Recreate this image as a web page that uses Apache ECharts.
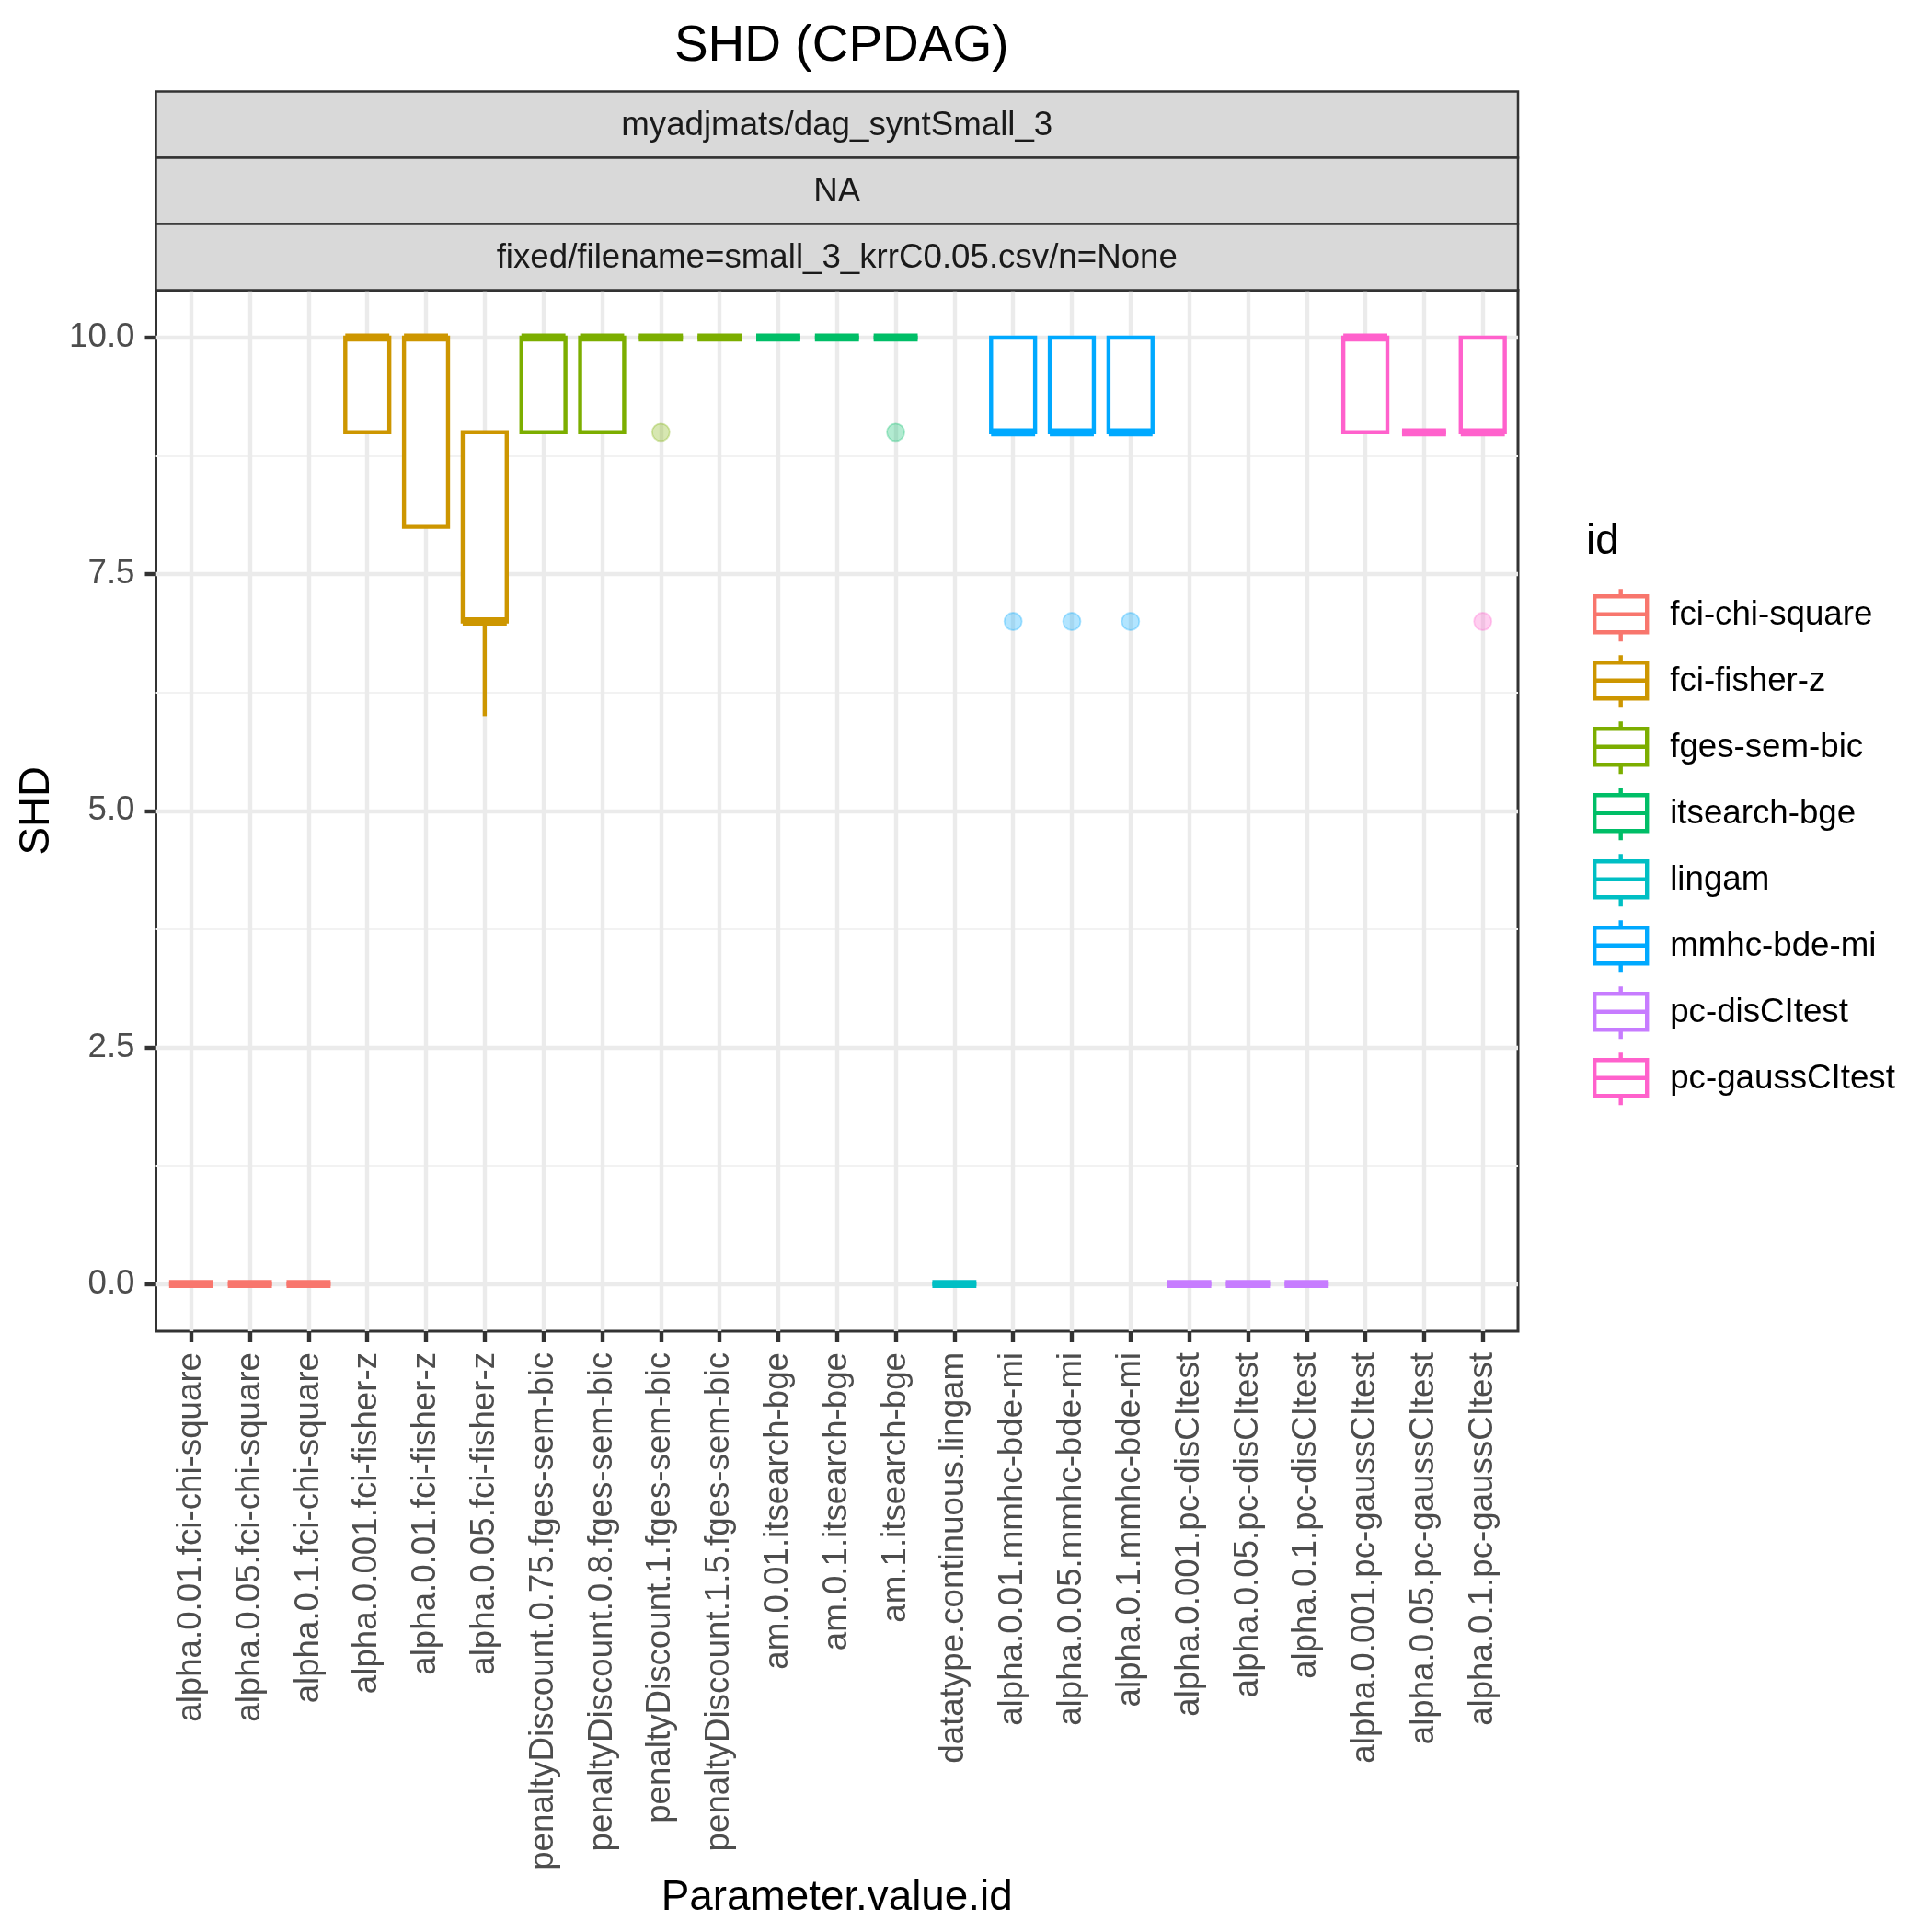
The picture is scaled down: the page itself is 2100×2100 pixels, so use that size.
<!DOCTYPE html>
<html>
<head>
<meta charset="utf-8">
<script src="https://cdn.jsdelivr.net/npm/echarts@6/dist/echarts.min.js"></script>
<style>html,body{margin:0;padding:0;background:#fff}#chart{width:2100px;height:2100px}</style>
</head>
<body>
<div id="chart"></div>
<script>
// ---- data ----
const categories = [
  'alpha.0.01.fci-chi-square','alpha.0.05.fci-chi-square','alpha.0.1.fci-chi-square',
  'alpha.0.001.fci-fisher-z','alpha.0.01.fci-fisher-z','alpha.0.05.fci-fisher-z',
  'penaltyDiscount.0.75.fges-sem-bic','penaltyDiscount.0.8.fges-sem-bic','penaltyDiscount.1.fges-sem-bic','penaltyDiscount.1.5.fges-sem-bic',
  'am.0.01.itsearch-bge','am.0.1.itsearch-bge','am.1.itsearch-bge',
  'datatype.continuous.lingam',
  'alpha.0.01.mmhc-bde-mi','alpha.0.05.mmhc-bde-mi','alpha.0.1.mmhc-bde-mi',
  'alpha.0.001.pc-disCItest','alpha.0.05.pc-disCItest','alpha.0.1.pc-disCItest',
  'alpha.0.001.pc-gaussCItest','alpha.0.05.pc-gaussCItest','alpha.0.1.pc-gaussCItest'
];
const categoryGroup = [
  'fci-chi-square','fci-chi-square','fci-chi-square',
  'fci-fisher-z','fci-fisher-z','fci-fisher-z',
  'fges-sem-bic','fges-sem-bic','fges-sem-bic','fges-sem-bic',
  'itsearch-bge','itsearch-bge','itsearch-bge',
  'lingam',
  'mmhc-bde-mi','mmhc-bde-mi','mmhc-bde-mi',
  'pc-disCItest','pc-disCItest','pc-disCItest',
  'pc-gaussCItest','pc-gaussCItest','pc-gaussCItest'
];
const groups = ['fci-chi-square','fci-fisher-z','fges-sem-bic','itsearch-bge','lingam','mmhc-bde-mi','pc-disCItest','pc-gaussCItest'];
const groupColors = ['#F8766D','#CD9600','#7CAE00','#00BE67','#00BFC4','#00A9FF','#C77CFF','#FF61CC'];
const whiskerLow  = [0,0,0, 9,8,6, 9,9,10,10, 10,10,10, 0, 9,9,9, 0,0,0, 9,9,9];
const q1          = [0,0,0, 9,8,7, 9,9,10,10, 10,10,10, 0, 9,9,9, 0,0,0, 9,9,9];
const median      = [0,0,0, 10,10,7, 10,10,10,10, 10,10,10, 0, 9,9,9, 0,0,0, 10,9,9];
const q3          = [0,0,0, 10,10,9, 10,10,10,10, 10,10,10, 0, 10,10,10, 0,0,0, 10,9,10];
const whiskerHigh = [0,0,0, 10,10,9, 10,10,10,10, 10,10,10, 0, 10,10,10, 0,0,0, 10,9,10];
const outlierCat  = [8, 12, 14, 15, 16, 22];
const outlierVal  = [9, 9, 7, 7, 7, 7];
const yTicks = [0, 2.5, 5, 7.5, 10];
const yMinor = [1.25, 3.75, 6.25, 8.75];
const stripLabels = ['myadjmats/dag_syntSmall_3', 'NA', 'fixed/filename=small_3_krrC0.05.csv/n=None'];

// ---- layout / style ----
const FONT = 'Liberation Sans';
const G = {left: 169.5, top: 315.5, right: 1650, bottom: 1447};
const LW = 4.4;
const BOX_W = 0.75;
const STRIP_H = 72;

const chart = echarts.init(document.getElementById('chart'), null, {renderer: 'canvas'});

function makeRender(color) {
  return function (params, api) {
    const x = api.value(0);
    const pLo = api.coord([x, api.value(1)]);
    const pQ1 = api.coord([x, api.value(2)]);
    const pMed = api.coord([x, api.value(3)]);
    const pQ3 = api.coord([x, api.value(4)]);
    const pHi = api.coord([x, api.value(5)]);
    const half = api.size([BOX_W, 0])[0] / 2;
    const cx = pMed[0];
    const ch = [];
    if (pQ3[1] - pHi[1] > 0.5) ch.push({type: 'line', shape: {x1: cx, y1: pQ3[1], x2: cx, y2: pHi[1]}, style: {stroke: color, lineWidth: LW}});
    if (pLo[1] - pQ1[1] > 0.5) ch.push({type: 'line', shape: {x1: cx, y1: pQ1[1], x2: cx, y2: pLo[1]}, style: {stroke: color, lineWidth: LW}});
    ch.push({type: 'rect', shape: {x: cx - half, y: pQ3[1], width: 2 * half, height: pQ1[1] - pQ3[1]}, style: {fill: '#fff', stroke: color, lineWidth: LW}});
    ch.push({type: 'line', shape: {x1: cx - half, y1: pMed[1], x2: cx + half, y2: pMed[1]}, style: {stroke: color, lineWidth: LW * 2}});
    return {type: 'group', children: ch};
  };
}

const series = [];
groups.forEach((g, gi) => {
  const color = groupColors[gi];
  const data = [];
  categories.forEach((c, i) => {
    if (categoryGroup[i] === g) data.push([i, whiskerLow[i], q1[i], median[i], q3[i], whiskerHigh[i]]);
  });
  series.push({
    type: 'custom', name: g, data: data,
    encode: {x: 0, y: [1, 2, 3, 4, 5]},
    itemStyle: {color: '#fff', borderColor: color, borderWidth: LW},
    renderItem: makeRender(color), z: 3
  });
  const od = [];
  outlierCat.forEach((ci, k) => { if (categoryGroup[ci] === g) od.push([ci, outlierVal[k]]); });
  if (od.length) {
    series.push({
      type: 'scatter', name: g + ' outliers', data: od, symbol: 'circle', symbolSize: 19,
      itemStyle: {color: color, opacity: 0.3, borderColor: color, borderWidth: 1.8}, z: 4, silent: true
    });
  }
});

const iconPath = 'path://M28.5 0 L28.5 8 M0 8 L57 8 L57 47 L0 47 Z M0 27.5 L57 27.5 M28.5 47 L28.5 57';

const graphics = [];
stripLabels.forEach((t, i) => {
  const y = 99.5 + i * STRIP_H;
  graphics.push({type: 'rect', shape: {x: G.left, y: y, width: G.right - G.left, height: STRIP_H},
    style: {fill: '#D9D9D9', stroke: '#333333', lineWidth: 2.5}, z: 1});
  graphics.push({type: 'text', x: (G.left + G.right) / 2, y: y + STRIP_H / 2 + 1,
    style: {text: t, fill: '#1A1A1A', font: '36.7px "' + FONT + '"', textAlign: 'center', textVerticalAlign: 'middle'}, z: 2});
});

const option = {
  animation: false,
  backgroundColor: '#ffffff',
  textStyle: {fontFamily: FONT},
  title: [
    {text: 'SHD (CPDAG)', left: (G.left + G.right) / 2, top: 18, textAlign: 'center',
     textStyle: {fontSize: 55, fontWeight: 'normal', color: '#000', fontFamily: FONT}},
    {text: 'id', left: 1719, top: 561, textStyle: {fontSize: 45.8, fontWeight: 'normal', color: '#000', fontFamily: FONT}}
  ],
  grid: {left: G.left, top: G.top, width: G.right - G.left, height: G.bottom - G.top,
    show: true, borderColor: '#333333', borderWidth: 3, backgroundColor: '#fff', containLabel: false},
  legend: {
    orient: 'vertical', left: 1726, top: 633, itemWidth: 57, itemHeight: 57, itemGap: 10.6,
    icon: iconPath, selectedMode: false,
    textStyle: {fontSize: 36.7, color: '#000', fontFamily: FONT, padding: [0, 0, 0, 20]},
    data: groups.map((g, i) => ({name: g, itemStyle: {color: '#fff', borderColor: groupColors[i], borderWidth: LW}}))
  },
  xAxis: {
    type: 'value', min: -0.6, max: 22.6, position: 'bottom',
    name: 'Parameter.value.id', nameLocation: 'middle', nameGap: 564,
    nameTextStyle: {fontSize: 45.8, color: '#000', fontFamily: FONT},
    axisLine: {show: false, onZero: false},
    axisTick: {show: true, length: 12, lineStyle: {color: '#333333', width: LW}, customValues: categories.map((c, i) => i)},
    axisLabel: {show: true, rotate: 90, margin: 23, fontSize: 36.7, color: '#4D4D4D', fontFamily: FONT,
      customValues: categories.map((c, i) => i), formatter: v => categories[Math.round(v)]},
    splitLine: {show: true, lineStyle: {color: '#EBEBEB', width: LW}}
  },
  yAxis: [
    {
      type: 'value', min: -0.5, max: 10.5, position: 'left',
      name: 'SHD', nameLocation: 'middle', nameGap: 106,
      nameTextStyle: {fontSize: 45.8, color: '#000', fontFamily: FONT},
      axisLine: {show: false, onZero: false},
      axisTick: {show: true, length: 12, lineStyle: {color: '#333333', width: LW}, customValues: yTicks},
      axisLabel: {show: true, margin: 23, fontSize: 36.7, color: '#4D4D4D', fontFamily: FONT,
        customValues: yTicks, formatter: v => v.toFixed(1)},
      splitLine: {show: true, lineStyle: {color: '#EBEBEB', width: LW}}
    },
    {
      type: 'value', min: -0.5, max: 10.5, position: 'left',
      axisLine: {show: false, onZero: false},
      axisTick: {show: false, customValues: yMinor},
      axisLabel: {show: false, customValues: yMinor},
      splitLine: {show: true, lineStyle: {color: '#F2F2F2', width: LW / 2}}
    }
  ],
  graphic: graphics,
  series: series
};
chart.setOption(option);
</script>
</body>
</html>
